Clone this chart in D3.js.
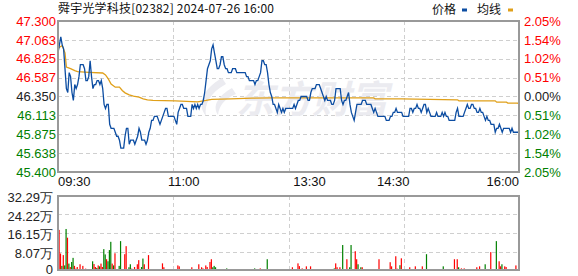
<!DOCTYPE html>
<html>
<head>
<meta charset="utf-8">
<script src="https://cdn.jsdelivr.net/npm/d3@7"></script>
<style>
body{margin:0;background:#fff;}
svg text{font-family:"Liberation Sans",Arial,sans-serif;}
</style>
</head>
<body>
<svg id="chart" width="578" height="276"></svg>
<script>
title = '舜宇光学科技[02382] 2024-07-26 16:00';
legendNames = ['价格','均线'];
priceTicks = ['47.300','47.063','46.825','46.587','46.350','46.113','45.875','45.638','45.400'];
pctTicks = ['2.05%','1.54%','1.02%','0.51%','0.00%','0.51%','1.02%','1.54%','2.05%'];
timeLabels = ['09:30','11:00','13:30','14:30','16:00'];
timeLabelMinutes = [0,90,180,240,330];
volTicks = ['0','8.07万','16.15万','24.22万','32.29万'];
volTickValues = [0,8.07,16.15,24.22,32.29];

// one price per trading minute, 09:30 .. 16:00 (lunch removed)
prices = [
46.90,47.00,47.10,47.00,46.95,46.70,46.45,46.40,46.65,46.60,
46.40,46.30,46.50,46.45,46.50,46.60,46.75,46.75,46.75,46.70,
46.55,46.55,46.60,46.80,46.60,46.45,46.50,46.50,46.55,46.55,
46.50,46.55,46.45,46.25,46.20,46.25,46.25,46.00,45.95,45.95,
45.95,45.90,45.85,45.85,45.80,45.70,45.70,45.70,45.85,45.95,
45.95,45.75,45.80,45.80,45.80,45.75,45.80,45.85,45.95,45.90,
45.80,45.80,45.80,45.75,45.80,45.90,45.95,46.05,46.05,46.10,
46.10,46.10,46.05,46.00,46.05,46.10,46.15,46.20,46.20,46.10,
46.10,46.10,46.10,46.10,46.05,46.00,46.15,46.20,46.25,46.25,
46.20,46.20,46.20,46.10,46.10,46.10,46.25,46.20,46.25,46.20,
46.25,46.20,46.25,46.25,46.30,46.40,46.55,46.70,46.75,46.80,
46.95,47.00,46.90,46.80,46.70,46.70,46.75,46.85,46.85,46.75,
46.70,46.70,46.65,46.65,46.65,46.70,46.70,46.70,46.65,46.65,
46.65,46.65,46.65,46.65,46.65,46.60,46.60,46.55,46.55,46.55,
46.55,46.50,46.55,46.55,46.60,46.65,46.80,46.80,46.75,46.75,
46.65,46.50,46.40,46.35,46.25,46.25,46.20,46.15,46.25,46.20,
46.15,46.20,46.15,46.20,46.20,46.20,46.20,46.20,46.20,46.25,
46.20,46.25,46.30,46.30,46.35,46.35,46.35,46.35,46.35,46.30,
46.30,46.40,46.45,46.45,46.45,46.50,46.50,46.50,46.45,46.40,
46.35,46.30,46.35,46.30,46.30,46.30,46.25,46.25,46.30,46.45,
46.45,46.45,46.45,46.30,46.25,46.30,46.30,46.35,46.40,46.25,
46.15,46.10,46.05,46.15,46.25,46.25,46.25,46.25,46.30,46.30,
46.30,46.25,46.25,46.25,46.25,46.20,46.15,46.20,46.15,46.10,
46.10,46.10,46.10,46.10,46.10,46.05,46.05,46.05,46.10,46.10,
46.15,46.15,46.20,46.15,46.15,46.15,46.15,46.10,46.10,46.10,
46.10,46.10,46.20,46.20,46.15,46.20,46.20,46.25,46.20,46.20,
46.15,46.20,46.25,46.25,46.15,46.20,46.15,46.10,46.10,46.10,
46.10,46.15,46.10,46.10,46.10,46.15,46.10,46.15,46.10,46.10,
46.05,46.05,46.05,46.05,46.05,46.15,46.20,46.10,46.10,46.10,
46.10,46.15,46.20,46.25,46.20,46.20,46.25,46.25,46.20,46.20,
46.15,46.15,46.20,46.15,46.15,46.10,46.05,46.10,46.05,46.05,
46.00,46.00,46.00,45.90,45.95,45.95,46.00,45.95,45.90,45.95,
45.95,45.95,45.95,45.95,45.90,45.95,45.90,45.90,45.90,45.90,
45.90];

avgMinutes = [0,1,3,5,6,9,12,14,22,32,34,36,38,41,44,46,48,51,54,58,61,64,68,84,100,106,110,124,139,153,226,227,246,286,287,313,314,321,322,329,330];
avgPrices = [46.95,46.97,46.99,46.90,46.72,46.70,46.675,46.663,46.654,46.646,46.621,46.571,46.508,46.467,46.467,46.425,46.396,46.371,46.354,46.342,46.321,46.308,46.300,46.296,46.283,46.300,46.313,46.321,46.329,46.333,46.333,46.321,46.321,46.308,46.296,46.296,46.279,46.279,46.267,46.267,46.258];

// volume per minute, in 万 shares
volumes = [
0,17.5,7.2,1.8,6.5,2.0,17.9,14.1,2.8,1.3,
3.5,5.3,1.8,0.6,1.3,0.4,2.5,0.4,1.8,0.4,
0.6,0.4,0.4,0.4,0.4,3.8,2.6,1.3,0.9,2.0,
1.6,2.8,1.3,9.1,6.8,4.7,3.8,8.7,12.3,2.8,
2.0,7.3,0.4,0.4,1.8,12.6,0.4,0.4,6.9,10.4,
0.4,1.2,2.5,0.6,0.4,1.3,0.4,2.5,4.3,0.4,
1.3,5.0,2.5,0.4,0.4,6.5,0.4,0.4,0.4,0.4,
0.4,0.4,0.4,0.4,0.4,2.9,1.2,0.4,0.4,0.4,
0.4,0.4,0.4,0.4,0.4,0.4,2.0,1.6,0.4,0.4,
0.4,0.4,0.4,0.4,0.4,0.4,1.2,0.4,0.4,0.4,
0.4,2.5,0.4,1.2,0.7,0.4,2.0,1.3,0.4,3.5,
4.7,1.2,1.8,1.2,0.4,0.4,0.4,0.4,0.4,0.4,
0.4,0.7,0.4,0.4,0.4,0.4,0.4,0.4,0.4,0.4,
0.4,0.4,0.4,0.4,0.4,0.4,0.4,0.4,0.4,0.4,
0.4,0.7,0.4,0.4,0.4,0.7,0.4,0.4,0.4,0.4,
4.7,0.4,0.4,0.4,0.4,0.4,0.4,0.4,0.4,0.4,
0.4,0.4,0.4,0.4,0.4,0.4,0.4,0.4,1.2,0.4,
0.4,0.4,2.9,1.7,0.4,0.7,0.4,0.4,1.6,0.4,
0.4,1.6,0.4,0.4,0.4,0.4,0.4,0.4,0.4,0.4,
0.4,0.4,0.4,0.4,0.4,0.4,0.4,0.4,0.7,2.9,
1.2,0.4,1.2,0.4,10.9,0.4,0.4,4.7,0.4,1.2,
10.9,0.4,0.4,8.2,4.7,2.5,0.4,1.2,1.2,0.4,
0.4,0.4,0.4,0.4,0.4,0.4,0.4,0.4,0.4,0.4,
4.7,0.4,0.4,0.4,0.4,0.4,0.4,0.4,3.4,1.6,
0.4,0.4,6.0,0.6,0.4,2.1,5.1,0.4,0.4,0.4,
0.4,0.4,1.2,0.4,0.4,0.4,1.6,0.4,0.4,0.4,
0.4,1.6,0.4,0.4,6.9,0.4,0.4,0.4,0.4,0.4,
0.4,0.4,0.4,0.4,0.4,0.4,1.6,0.4,0.4,0.4,
0.4,0.4,0.4,0.4,4.7,0.4,4.7,1.2,0.4,0.7,
0.4,0.7,0.4,0.4,0.4,0.4,0.4,0.4,0.4,0.4,
1.2,0.4,1.6,0.4,0.4,0.4,2.5,0.4,0.4,0.4,
7.8,0.4,0.4,0.4,12.6,0.4,3.8,1.6,2.5,0.4,
1.6,1.3,0.4,0.4,0.4,0.4,0.4,0.4,2.0,0.4,
30.0];
greenBars = [3,5,6,8,10,11,19,25,28,30,33,34,36,37,38,40,44,45,51,52,60,61,63,68,69,71,72,78,79,80,89,92,93,
111,112,113,117,121,141,147,150,151,152,157,161,163,186,187,189,190,191,192,193,198,204,209,210,215,217,
222,223,225,226,245,264,272,276,287,296,297,306,314,318,323,324,325];

const L = 58, R = 519, T = 21, B = 172, VT = 196, VB = 270;
const red = '#ff0000', green = '#008000', gridColor = '#cfcfcf', frameColor = '#999';
const svg = d3.select('#chart');

const x = d3.scaleLinear().domain([0,330]).range([L,R]);
const y = d3.scaleLinear().domain([45.4,47.3]).range([B,T]);
const yv = d3.scaleLinear().domain([0,32.29]).range([VB,VT]);

function labelColor(i){
	if(i<4) return red;
	if(i==4) return '#222';
	return green;
}

// grids
function drawGrid(top,bottom,ys){
	const g = svg.append('g').attr('stroke',gridColor).attr('stroke-dasharray','4,3').attr('stroke-width',1);
	ys.forEach(function(v){
		g.append('line').attr('x1',L).attr('x2',R).attr('y1',Math.round(v)+0.5).attr('y2',Math.round(v)+0.5);
	});
	[1,2,3].forEach(function(k){
		const xx = Math.round(L+(R-L)*k/4)+0.5;
		g.append('line').attr('x1',xx).attr('x2',xx).attr('y1',top).attr('y2',bottom);
	});
}
drawGrid(T,B,priceTicks.slice(1,8).map(function(t){return y(+t);}));
drawGrid(VT,VB,volTickValues.slice(1,4).map(function(v){return yv(v);}));

// watermark
const wm = svg.append('g').attr('fill','#ebebf0');
wm.append('path').attr('d','M222,78 C204,88 196,104 206,116 C204,104 210,93 226,84 Z M232,88 C218,96 212,106 218,115 C219,106 224,99 236,94 Z');
wm.append('text').attr('x',236).attr('y',113).attr('font-size',38).attr('font-weight','bold')
	.attr('font-style','italic').style('font-family','"Noto Sans CJK SC",sans-serif').text('东方财富');

// average and price lines
const avgLine = d3.line().x(function(d,i){return x(avgMinutes[i]);}).y(function(d){return y(d);});
svg.append('path').datum(avgPrices).attr('d',avgLine).attr('fill','none').attr('stroke','#e0a01a').attr('stroke-width',1.3);

const priceLine = d3.line().x(function(d,i){return x(i);}).y(function(d){return y(d);});
svg.append('path').datum(prices).attr('d',priceLine).attr('fill','none').attr('stroke','#0c4da2').attr('stroke-width',1.3);

// volume bars
svg.append('g').selectAll('rect').data(volumes).enter().append('rect')
	.attr('x',function(d,i){return x(i)-0.9;})
	.attr('width',1.2)
	.attr('y',function(d){return yv(d);})
	.attr('height',function(d){return VB-yv(d);})
	.attr('fill',function(d,i){return greenBars.indexOf(i)>=0 ? green : red;});

// frames
[[T,B],[VT,VB]].forEach(function(p){
	svg.append('rect').attr('x',L).attr('y',p[0]).attr('width',R-L).attr('height',p[1]-p[0])
		.attr('fill','none').attr('stroke',frameColor).attr('stroke-width',2);
});

// axis labels
priceTicks.forEach(function(t,i){
	svg.append('text').attr('x',L-2).attr('y',y(+t)).attr('dy','0.36em').attr('text-anchor','end')
		.attr('font-size',13).attr('fill',labelColor(i)).text(t);
	svg.append('text').attr('x',R+5).attr('y',y(+t)).attr('dy','0.36em')
		.attr('font-size',13).attr('fill',labelColor(i)).text(pctTicks[i]);
});
volTicks.forEach(function(t,i){
	const shift = i==0 ? -0.5 : 1.5;
	svg.append('text').attr('x',L-5).attr('y',yv(volTickValues[i])+shift).attr('dy','0.36em').attr('text-anchor','end')
		.attr('font-size',13).attr('fill','#222').text(t);
});
timeLabels.forEach(function(t,i){
	let anchor = 'middle';
	if(i==0) anchor = 'start';
	if(i==timeLabels.length-1) anchor = 'end';
	svg.append('text').attr('x',x(timeLabelMinutes[i])).attr('y',186).attr('text-anchor',anchor)
		.attr('font-size',13).attr('fill','#111').text(t);
});

// title and legend
svg.append('text').attr('x',L).attr('y',13).attr('font-size',12).attr('fill','#111')
	.attr('textLength',216).attr('lengthAdjust','spacing')
	.style('font-family','"Noto Sans CJK SC",sans-serif').text(title);
svg.append('text').attr('x',432).attr('y',14).attr('font-size',12).attr('fill','#111')
	.style('font-family','"Noto Sans CJK SC",sans-serif').text(legendNames[0]);
svg.append('rect').attr('x',462).attr('y',8.5).attr('width',5).attr('height',3).attr('fill','#0c4da2');
svg.append('text').attr('x',477).attr('y',14).attr('font-size',12).attr('fill','#111')
	.style('font-family','"Noto Sans CJK SC",sans-serif').text(legendNames[1]);
svg.append('rect').attr('x',508).attr('y',8.5).attr('width',5).attr('height',3).attr('fill','#e0a01a');
</script>
</body>
</html>
